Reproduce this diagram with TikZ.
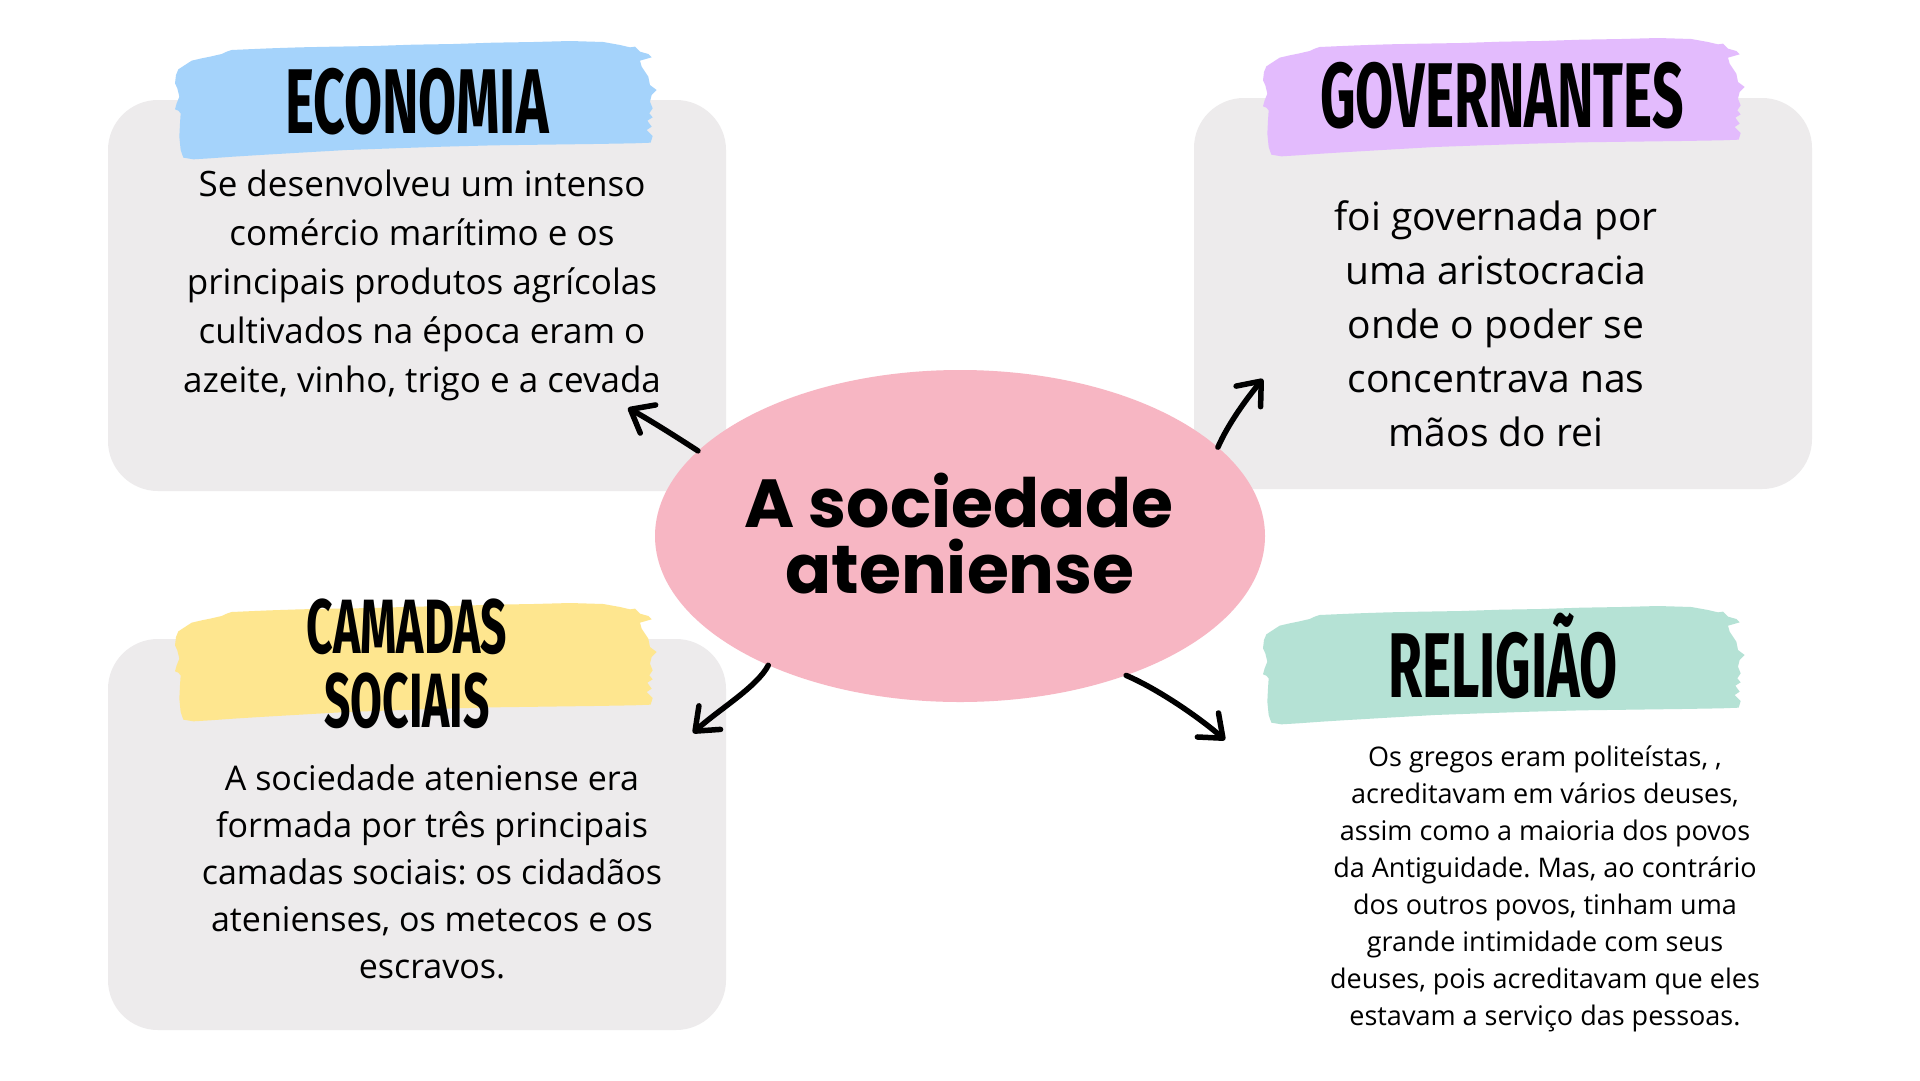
\documentclass[tikz,border=0pt]{standalone}
\usepackage{fontspec}
\setmainfont{Open Sans}
\newfontfamily\headfont{Fira Sans}[FakeStretch=0.6]
\newfontfamily\titlefont{Poppins}
\usetikzlibrary{shapes.geometric,arrows.meta}
\frenchspacing
\definecolor{boxgrey}{HTML}{EDEBEC}
\definecolor{brushblue}{HTML}{A5D3FB}
\definecolor{brushpurple}{HTML}{E3BBFD}
\definecolor{brushyellow}{HTML}{FEE68F}
\definecolor{brushgreen}{HTML}{B5E2D5}
\definecolor{ellpink}{HTML}{F7B6C3}
\newcommand\brushfill[2]{%
  \fill[#1,shift={#2},scale=1/3] (48,135) -- (55,118) -- (75,105) -- (95,92) -- (125,85) -- (150,80) -- (185,72) -- (200,65) -- (215,60) -- (260,58) -- (330,55) -- (420,52) -- (520,50) -- (640,48) -- (760,44) -- (880,42) -- (1000,38) -- (1120,36) -- (1230,33) -- (1330,36) -- (1380,45) -- (1410,52) -- (1425,50) -- (1440,65) -- (1465,72) -- (1475,82) -- (1440,92) -- (1445,110) -- (1455,125) -- (1465,140) -- (1470,165) -- (1490,180) -- (1475,195) -- (1470,215) -- (1478,235) -- (1468,250) -- (1478,262) -- (1462,272) -- (1475,290) -- (1460,300) -- (1478,318) -- (1472,338) -- (1420,340) -- (1300,342) -- (1150,344) -- (1000,346) -- (850,350) -- (700,355) -- (560,360) -- (420,368) -- (300,375) -- (220,380) -- (150,385) -- (100,388) -- (70,383) -- (62,360) -- (58,320) -- (60,280) -- (62,250) -- (55,242) -- (45,238) -- (50,220) -- (58,200) -- (52,175) -- (45,160) -- cycle;}
\tikzset{
  greybox/.style={fill=boxgrey,rounded corners=50pt},
  bodytxt/.style={align=center,inner sep=0pt,text=black},
  headtxt/.style={inner sep=0pt,text=black,anchor=base},
  headfnt/.style={font=\headfont\bfseries\fontsize{92}{92}\selectfont},
  titletxt/.style={inner sep=0pt,anchor=base,text=black,font=\titlefont\bfseries\fontsize{68}{66}\selectfont},
  arr/.style={line width=5.5pt,line cap=round,draw=black,-{Straight Barb[length=20pt,width=32pt,round]}}
}
\begin{document}
\begin{tikzpicture}[x=1pt,y=-1pt]
\useasboundingbox (0,0) rectangle (1920,1080);
\fill[white] (0,0) rectangle (1920,1080);
% grey boxes
\path[greybox] (108,100) rectangle (726,491);
\path[greybox] (1194,98) rectangle (1812,489);
\path[greybox] (108,639) rectangle (726,1030);
% brush strokes
\brushfill{brushblue}{(160,30)}
\brushfill{brushpurple}{(1248,27)}
\brushfill{brushyellow}{(160,592)}
\brushfill{brushgreen}{(1248,595)}
% headings
\node[headtxt,headfnt] (hEco) at (417,133) {ECONOMIA};
\node[headtxt,headfnt] (hGov) at (1502,127) {GOVERNANTES};
\node[inner sep=0pt,align=center,text=black,font=\headfont\bfseries\fontsize{77}{74}\selectfont] (hCam) at (407,663.5) {CAMADAS\\SOCIAIS};
\node[headtxt,headfnt] (hRel) at (1503,697) {RELIGIÃO};
% body texts
\node[bodytxt,font=\fontsize{35}{49}\selectfont] (tEco) at (422,285.5) {Se desenvolveu um intenso\\comércio marítimo e os\\principais produtos agrícolas\\cultivados na época eram o\\azeite, vinho, trigo e a cevada};
\node[bodytxt,font=\fontsize{39}{54}\selectfont] (tGov) at (1496,323.5) {foi governada por\\uma aristocracia\\onde o poder se\\concentrava nas\\mãos do rei};
\node[bodytxt,font=\fontsize{34}{47}\selectfont] (tCam) at (432,872) {A sociedade ateniense era\\formada por três principais\\camadas sociais: os cidadãos\\atenienses, os metecos e os\\escravos.};
\node[bodytxt,font=\fontsize{27}{37}\selectfont] (tRel) at (1545,888.5) {Os gregos eram politeístas, ,\\acreditavam em vários deuses,\\assim como a maioria dos povos\\da Antiguidade. Mas, ao contrário\\dos outros povos, tinham uma\\grande intimidade com seus\\deuses, pois acreditavam que eles\\estavam a serviço das pessoas.};
% central ellipse
\node[ellipse,fill=ellpink,minimum width=610pt,minimum height=332pt,inner sep=0pt] (soc) at (960,536) {};
\node[titletxt] (t1) at (959,527) {A sociedade};
\node[titletxt] (t2) at (960,593) {ateniense};
% arrow tips
\coordinate (pEco) at (628,408);
\coordinate (pGov) at (1263,379);
\coordinate (pCam) at (693,733);
\coordinate (pRel) at (1225,740);
% arrows
\draw[arr] (soc.162) .. controls (672,434) and (648,419) .. (pEco);
\draw[arr] (soc.19) .. controls (1228,424) and (1247,398) .. (pGov);
\draw[arr] (soc.214) .. controls (757,687) and (718,710) .. (pCam);
\draw[arr] (soc.320) .. controls (1158,689) and (1200,718) .. (pRel);
\end{tikzpicture}
\end{document}
